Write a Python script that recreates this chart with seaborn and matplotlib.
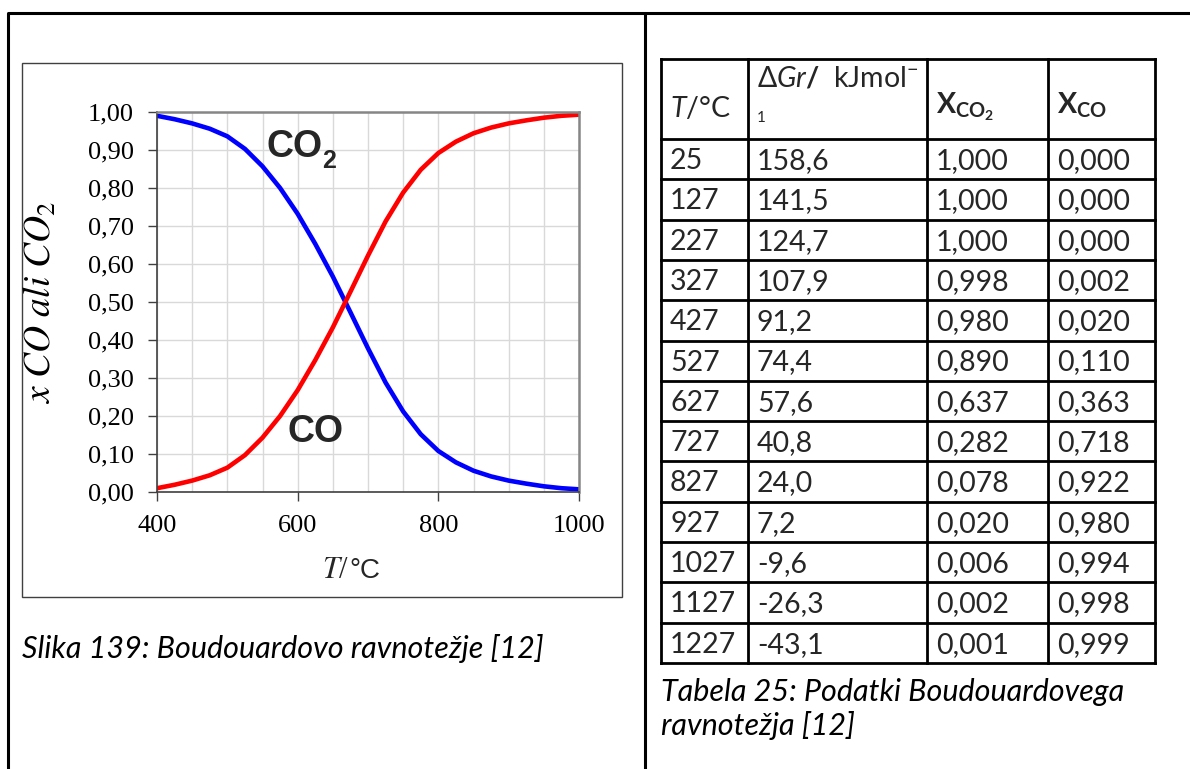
import matplotlib
matplotlib.use("Agg")
import matplotlib.pyplot as plt
import seaborn as sns
import numpy as np
from matplotlib.ticker import FuncFormatter, MultipleLocator
from matplotlib.patches import Rectangle

sns.set_theme(style="white")
plt.rcParams["font.family"] = ["Lato", "DejaVu Sans"]
plt.rcParams["mathtext.fontset"] = "custom"
plt.rcParams["mathtext.rm"] = "Lato"
plt.rcParams["mathtext.it"] = "Lato:italic"
plt.rcParams["mathtext.bf"] = "Lato:bold"

# chart curves
temp = [400, 425, 450, 475, 500, 525, 550, 575, 600, 625, 650, 675, 700,
        725, 750, 775, 800, 825, 850, 875, 900, 925, 950, 975, 1000]
x_co = [0.010, 0.019, 0.030, 0.044, 0.064, 0.097, 0.143, 0.200, 0.268, 0.347,
        0.433, 0.527, 0.622, 0.712, 0.788, 0.848, 0.892, 0.922, 0.944, 0.959,
        0.970, 0.978, 0.985, 0.990, 0.993]
x_co2 = [0.990, 0.981, 0.970, 0.956, 0.936, 0.903, 0.857, 0.800, 0.732, 0.653,
         0.567, 0.473, 0.378, 0.288, 0.212, 0.152, 0.108, 0.078, 0.056, 0.041,
         0.030, 0.022, 0.015, 0.010, 0.007]

# table data
tab_t = [25, 127, 227, 327, 427, 527, 627, 727, 827, 927, 1027, 1127, 1227]
tab_dg = [158.6, 141.5, 124.7, 107.9, 91.2, 74.4, 57.6, 40.8, 24.0, 7.2, -9.6, -26.3, -43.1]
tab_co2 = [1.000, 1.000, 1.000, 0.998, 0.980, 0.890, 0.637, 0.282, 0.078, 0.020, 0.006, 0.002, 0.001]
tab_co = [0.000, 0.000, 0.000, 0.002, 0.020, 0.110, 0.363, 0.718, 0.922, 0.980, 0.994, 0.998, 0.999]


def comma(v, nd):
    return f"{v:.{nd}f}".replace(".", ",")


W, H = 1190, 769
fig = plt.figure(figsize=(W / 100, H / 100), dpi=100)
fig.patch.set_facecolor("white")

# page layer in pixel coordinates
bg = fig.add_axes([0, 0, 1, 1])
bg.set_xlim(0, W)
bg.set_ylim(H, 0)
bg.axis("off")

lw_page = 2.2
bg.plot([8, W], [13, 13], color="black", lw=lw_page, solid_capstyle="butt")
bg.plot([8, 8], [13, H], color="black", lw=lw_page)
bg.plot([645, 645], [13, H], color="black", lw=lw_page)

# chart frame
bg.add_patch(Rectangle((22, 63), 600, 534, fill=False, ec="#404040", lw=1.0))

# captions
fs_cap = 22
bg.text(22, 658, "Slika 139: Boudouardovo ravnotežje [12]", fontsize=fs_cap,
        style="italic", va="baseline", ha="left", color="black")
bg.text(661, 701, "Tabela 25: Podatki Boudouardovega", fontsize=fs_cap,
        style="italic", va="baseline", ha="left", color="black")
bg.text(661, 735, "ravnotežja [12]", fontsize=fs_cap,
        style="italic", va="baseline", ha="left", color="black")

# table
col_x = [661, 748, 927, 1048, 1155]
t_top, h_bot, t_bot = 59, 139, 663
row_h = (t_bot - h_bot) / len(tab_t)
for x in col_x:
    bg.plot([x, x], [t_top, t_bot], color="black", lw=2.0, solid_capstyle="projecting")
for k in range(len(tab_t) + 1):
    y = h_bot + k * row_h
    bg.plot([col_x[0], col_x[-1]], [y, y], color="black", lw=2.0, solid_capstyle="projecting")
bg.plot([col_x[0], col_x[-1]], [t_top, t_top], color="black", lw=2.0, solid_capstyle="projecting")

fs_tab = 20.5
pad = 9
bg.text(col_x[0] + pad, 117, r"$\mathit{T}$/°C", fontsize=fs_tab, va="baseline")
bg.text(col_x[1] + pad, 87, r"$\mathit{ΔGr}\mathbf{/}$  kJmol$^{-}$", fontsize=fs_tab, va="baseline")
bg.text(col_x[1] + pad, 122, "1", fontsize=11, va="baseline")
bg.text(col_x[2] + pad, 113, r"$\mathbf{X}_{\mathbf{CO}_{\mathbf{2}}}$", fontsize=fs_tab, va="baseline")
bg.text(col_x[3] + pad, 114, r"$\mathbf{X}_{\mathbf{CO}}$", fontsize=fs_tab, va="baseline")

for i in range(len(tab_t)):
    yb = h_bot + i * row_h + 30
    bg.text(col_x[0] + pad, yb, str(tab_t[i]), fontsize=fs_tab, va="baseline")
    bg.text(col_x[1] + pad, yb, comma(tab_dg[i], 1), fontsize=fs_tab, va="baseline")
    bg.text(col_x[2] + pad, yb, comma(tab_co2[i], 3), fontsize=fs_tab, va="baseline")
    bg.text(col_x[3] + pad, yb, comma(tab_co[i], 3), fontsize=fs_tab, va="baseline")

# chart
ax = fig.add_axes([157 / W, 1 - 492 / H, 422 / W, 380 / H])
ax.set_facecolor("white")
sns.lineplot(x=temp, y=x_co2, color="#0000ff", lw=3.3, ax=ax)
sns.lineplot(x=temp, y=x_co, color="#ff0000", lw=3.3, ax=ax)
for ln in ax.lines:
    ln.set_solid_joinstyle("round")

ax.set_xlim(400, 1000)
ax.set_ylim(0, 1)
ax.set_xticks([400, 600, 800, 1000])
ax.xaxis.set_minor_locator(MultipleLocator(50))
ax.yaxis.set_major_locator(MultipleLocator(0.1))
ax.yaxis.set_major_formatter(FuncFormatter(lambda v, p: comma(v, 2)))
ax.grid(True, which="both", color="#d9d9d9", lw=1.0)
ax.set_axisbelow(True)
ax.tick_params(which="major", direction="out", length=6.5, width=1.0, color="#404040",
               labelsize=19, pad=10, labelcolor="black", labelfontfamily="Liberation Serif",
               left=True, bottom=True)
ax.tick_params(which="minor", length=0)
for s in ["left", "bottom"]:
    ax.spines[s].set_color("#404040")
    ax.spines[s].set_linewidth(1.2)
for s in ["top", "right"]:
    ax.spines[s].set_color("#868686")
    ax.spines[s].set_linewidth(1.8)

ax.set_ylabel(r"$x\ CO\ ali\ CO_2$", fontsize=27, math_fontfamily="stix", color="black")
ax.yaxis.set_label_coords(-0.235, 0.5)

# x label: italic serif T, serif slash, sans °C
xl1 = bg.text(322, 578, r"$T$/", fontsize=22, family="Liberation Serif",
              math_fontfamily="stix", va="baseline", ha="left")
fig.canvas.draw()
ext = xl1.get_window_extent(fig.canvas.get_renderer())
bg.text(322 + ext.width, 578, "°C", fontsize=20, family="Liberation Sans",
        va="baseline", ha="left")

ax.text(556, 0.908, "CO", fontsize=27, fontweight="bold", family="Liberation Sans",
        va="center", ha="left")
ax.text(635, 0.872, "2", fontsize=18, fontweight="bold", family="Liberation Sans",
        va="center", ha="left")
ax.text(586, 0.158, "CO", fontsize=27, fontweight="bold", family="Liberation Sans",
        va="center", ha="left")

fig.savefig("out.png", dpi=100)
